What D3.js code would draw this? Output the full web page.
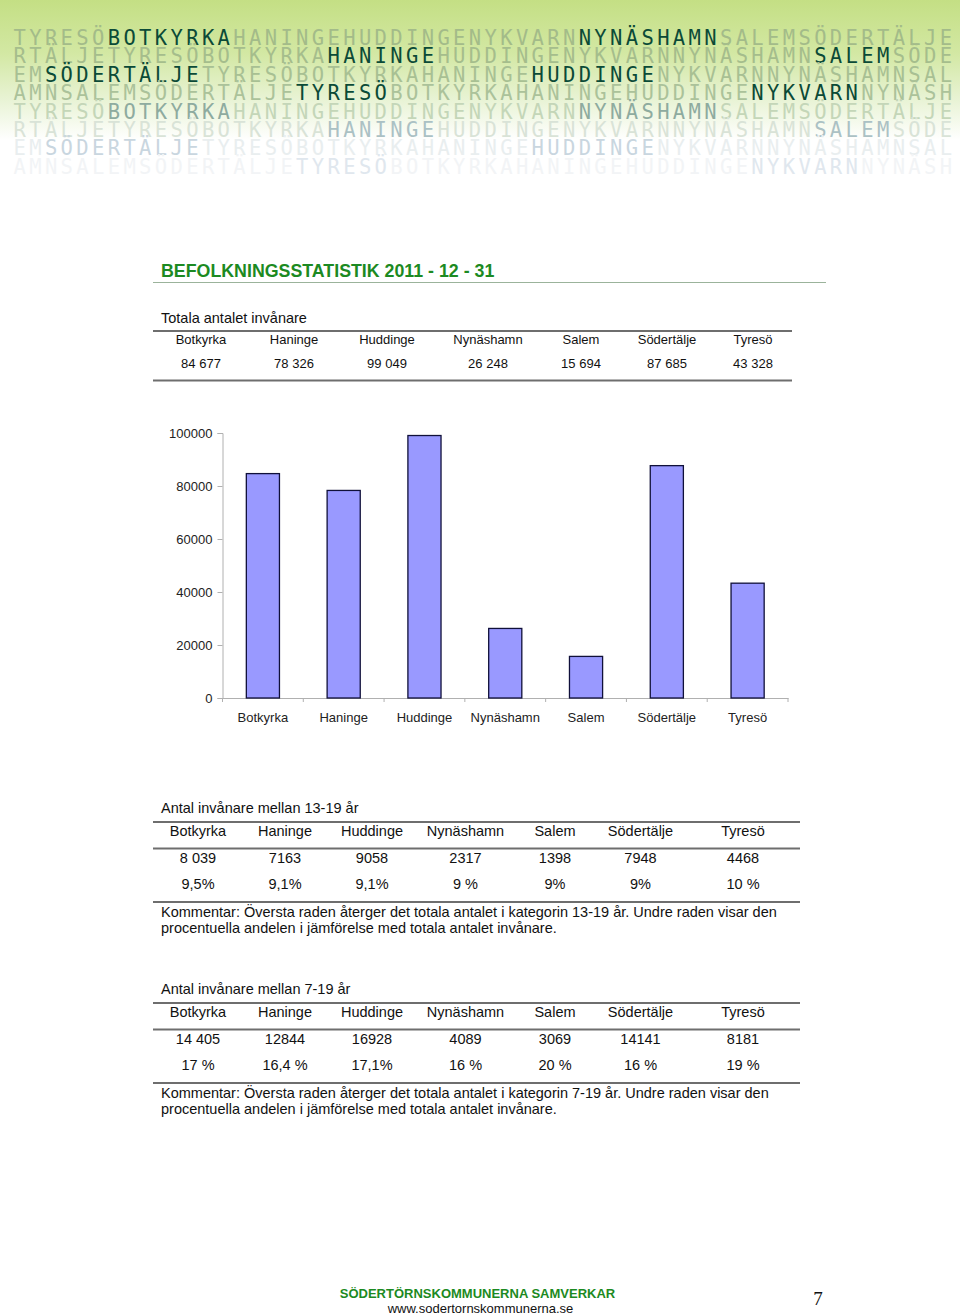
<!DOCTYPE html>
<html>
<head>
<meta charset="utf-8">
<script src="https://cdn.jsdelivr.net/npm/d3@7"></script>
<style>
  body { margin: 0; background: #fff; }
  svg { display: block; font-family: "Liberation Sans", Arial, sans-serif; }
</style>
</head>
<body>
<main></main>
<script>
// data
var kommuner = ["Botkyrka", "Haninge", "Huddinge", "Nynäshamn", "Salem", "Södertälje", "Tyresö"];
var totalInvanare = [84677, 78326, 99049, 26248, 15694, 87685, 43328];
var yTicks = [0, 20000, 40000, 60000, 80000, 100000];

var unga13 = ["8 039", "7163", "9058", "2317", "1398", "7948", "4468"];
var andel13 = ["9,5%", "9,1%", "9,1%", "9 %", "9%", "9%", "10 %"];
var unga7 = ["14 405", "12844", "16928", "4089", "3069", "14141", "8181"];
var andel7 = ["17 %", "16,4 %", "17,1%", "16 %", "20 %", "16 %", "19 %"];

var bannerWords = ["TYRESÖ", "BOTKYRKA", "HANINGE", "HUDDINGE", "NYKVARN", "NYNÄSHAMN", "SALEM", "SÖDERTÄLJE"];
var bannerHighlight = [["BOTKYRKA", "NYNÄSHAMN"], ["HANINGE", "SALEM"], ["SÖDERTÄLJE", "HUDDINGE"], ["TYRESÖ", "NYKVARN"]];

var w = 960;
var h = 1316;

var svg = d3.select("main").append("svg").attr("width", w).attr("height", h);

// BANNER
var defs = svg.append("defs");
var grad = defs.append("linearGradient").attr("id", "bannerGrad")
  .attr("x1", 0).attr("y1", 0).attr("x2", 0).attr("y2", 1);
grad.append("stop").attr("offset", "0%").attr("stop-color", "#c4df84");
grad.append("stop").attr("offset", "30%").attr("stop-color", "#d3e8a4");
grad.append("stop").attr("offset", "55%").attr("stop-color", "#e8f3d4");
grad.append("stop").attr("offset", "78%").attr("stop-color", "#ffffff");
grad.append("stop").attr("offset", "100%").attr("stop-color", "#ffffff");
svg.append("rect").attr("x", 0).attr("y", 0).attr("width", w).attr("height", 180)
  .attr("fill", "url(#bannerGrad)");

// one row of text per line, shifted 6 letters each line, split into word runs
var lightCol = ["#a3bb89", "#a5bd8c", "#a8c093", "#abc29a", "#c4d6b8", "#d9e3d7", "#e9eeef", "#f2f4f6"];
var darkCol = ["#0b4a37", "#0b4a37", "#0b4a37", "#0b4a37", "#8eab9f", "#abc1c4", "#c9d6df", "#e0e7ee"];
var cycle = bannerWords.join("");
var n = cycle.length;

for (var r = 0; r < 8; r++) {
  var shift = (n - 6 * (r % 4)) % n;
  var hl = bannerHighlight[r % 4];
  // split the shifted cycle into runs of the original words
  var runs = [];
  var pos = 0, start = 0;
  bannerWords.forEach(function (word) {
    runs.push({word: word, start: pos});
    pos += word.length;
  });
  var pieces = [];
  runs.forEach(function (run) {
    for (var k = 0; k < run.word.length; k++) {
      var idx = ((run.start + k) - shift + n) % n;
      pieces.push({idx: idx, ch: run.word[k], word: run.word});
    }
  });
  pieces.sort(function (a, b) { return a.idx - b.idx; });
  var segs = [];
  pieces.forEach(function (p) {
    var last = segs[segs.length - 1];
    if (last && last.word === p.word) last.text += p.ch;
    else segs.push({word: p.word, text: p.ch});
  });

  var t = svg.append("text")
    .attr("x", 13.5)
    .attr("y", 45 + r * 18.4)
    .attr("font-family", "'DejaVu Sans Mono', monospace")
    .attr("font-size", "20.5px")
    .attr("textLength", 15.7 * n - 3.4)
    .attr("lengthAdjust", "spacing");
  t.selectAll("tspan")
    .data(segs)
    .enter()
    .append("tspan")
    .attr("fill", function (d) { return hl.indexOf(d.word) >= 0 ? darkCol[r] : lightCol[r]; })
    .text(function (d) { return d.text; });
}

// TITLE
svg.append("text")
  .attr("x", 161).attr("y", 277)
  .attr("font-size", "17.8px").attr("font-weight", "bold")
  .attr("fill", "#1c8a22")
  .text("BEFOLKNINGSSTATISTIK 2011 - 12 - 31");
svg.append("line")
  .attr("x1", 153).attr("x2", 826).attr("y1", 282.5).attr("y2", 282.5)
  .attr("stroke", "#9bb39b").attr("stroke-width", 1);

// TABLE 1
var fmtSv = d3.formatLocale({decimal: ",", thousands: " ", grouping: [3], currency: ["", " kr"]}).format(",d");
var col1 = [201, 294, 387, 488, 581, 667, 753];

svg.append("text").attr("x", 161).attr("y", 322.5).attr("font-size", "14.5px").attr("fill", "#111")
  .text("Totala antalet invånare");

function hline(y, x1, x2) {
  svg.append("line").attr("x1", x1).attr("x2", x2).attr("y1", y).attr("y2", y)
    .attr("stroke", "#6e6e6e").attr("stroke-width", 2);
}
function textRow(values, cols, y, size) {
  svg.append("g").selectAll("text")
    .data(values)
    .enter()
    .append("text")
    .attr("x", function (d, i) { return cols[i]; })
    .attr("y", y)
    .attr("text-anchor", "middle")
    .attr("font-size", size)
    .attr("fill", "#111")
    .text(function (d) { return d; });
}

hline(331, 153, 792);
textRow(kommuner, col1, 343.5, "13px");
textRow(totalInvanare.map(fmtSv), col1, 367.5, "13px");
hline(380.5, 153, 792);

// BAR CHART
var xScale = d3.scaleBand().domain(kommuner).range([222.5, 788]).padding(0);
var yScale = d3.scaleLinear().domain([0, 100000]).range([698, 433]);
var barW = xScale.bandwidth() * 0.41;

var yAxis = d3.axisLeft(yScale).tickValues(yTicks).tickSize(5).tickPadding(5).tickFormat(d3.format("d"));
var gy = svg.append("g").attr("transform", "translate(222.5,0)").call(yAxis);
gy.selectAll("path, line").attr("stroke", "#b0b0b0");
gy.selectAll("text").attr("font-size", "13px").attr("fill", "#222")
  .attr("font-family", "'Liberation Sans', Arial, sans-serif");

var xAxis = d3.axisBottom(xScale).tickSize(0).tickPadding(15);
var gx = svg.append("g").attr("transform", "translate(0,698)").call(xAxis);
gx.select("path").attr("stroke", "#b0b0b0");
gx.selectAll("text").attr("font-size", "13px").attr("fill", "#222")
  .attr("font-family", "'Liberation Sans', Arial, sans-serif");
// category boundary ticks
var bounds = kommuner.map(function (k) { return xScale(k); }).concat([xScale.range()[1]]);
gx.selectAll("line.bound")
  .data(bounds)
  .enter()
  .append("line")
  .attr("class", "bound")
  .attr("x1", function (d) { return d; }).attr("x2", function (d) { return d; })
  .attr("y1", 0).attr("y2", 4)
  .attr("stroke", "#b0b0b0");

svg.append("g").selectAll("rect")
  .data(totalInvanare)
  .enter()
  .append("rect")
  .attr("x", function (d, i) { return xScale(kommuner[i]) + (xScale.bandwidth() - barW) / 2; })
  .attr("y", function (d) { return yScale(d); })
  .attr("width", barW)
  .attr("height", function (d) { return yScale(0) - yScale(d); })
  .attr("fill", "#9999ff")
  .attr("stroke", "#10103a")
  .attr("stroke-width", 1.3);

// TABLES 2 and 3
var col2 = [198, 285, 372, 465.5, 555, 640.5, 743];

function ageTable(top, title, counts, shares, range) {
  svg.append("text").attr("x", 161).attr("y", top).attr("font-size", "14.5px").attr("fill", "#111")
    .text(title);
  hline(top + 9, 153, 800);
  textRow(kommuner, col2, top + 23, "14.5px");
  hline(top + 35.5, 153, 800);
  textRow(counts, col2, top + 50, "14.5px");
  textRow(shares, col2, top + 76, "14.5px");
  hline(top + 89, 153, 800);
  svg.append("text").attr("x", 161).attr("y", top + 104).attr("font-size", "14.5px").attr("fill", "#111")
    .text("Kommentar: Översta raden återger det totala antalet i kategorin " + range + " år. Undre raden visar den");
  svg.append("text").attr("x", 161).attr("y", top + 120).attr("font-size", "14.5px").attr("fill", "#111")
    .text("procentuella andelen i jämförelse med totala antalet invånare.");
}

ageTable(813, "Antal invånare mellan 13-19 år", unga13, andel13, "13-19");
ageTable(994, "Antal invånare mellan 7-19 år", unga7, andel7, "7-19");

// FOOTER
svg.append("text").attr("x", 477.5).attr("y", 1298).attr("text-anchor", "middle")
  .attr("font-size", "13px").attr("font-weight", "bold").attr("fill", "#1c8a22")
  .text("SÖDERTÖRNSKOMMUNERNA SAMVERKAR");
svg.append("text").attr("x", 480.5).attr("y", 1312.5).attr("text-anchor", "middle")
  .attr("font-size", "13px").attr("fill", "#111")
  .text("www.sodertornskommunerna.se");
svg.append("text").attr("x", 818).attr("y", 1305).attr("text-anchor", "middle")
  .attr("font-size", "19px").attr("font-family", "'Liberation Serif', serif").attr("fill", "#111")
  .text("7");
</script>
</body>
</html>
